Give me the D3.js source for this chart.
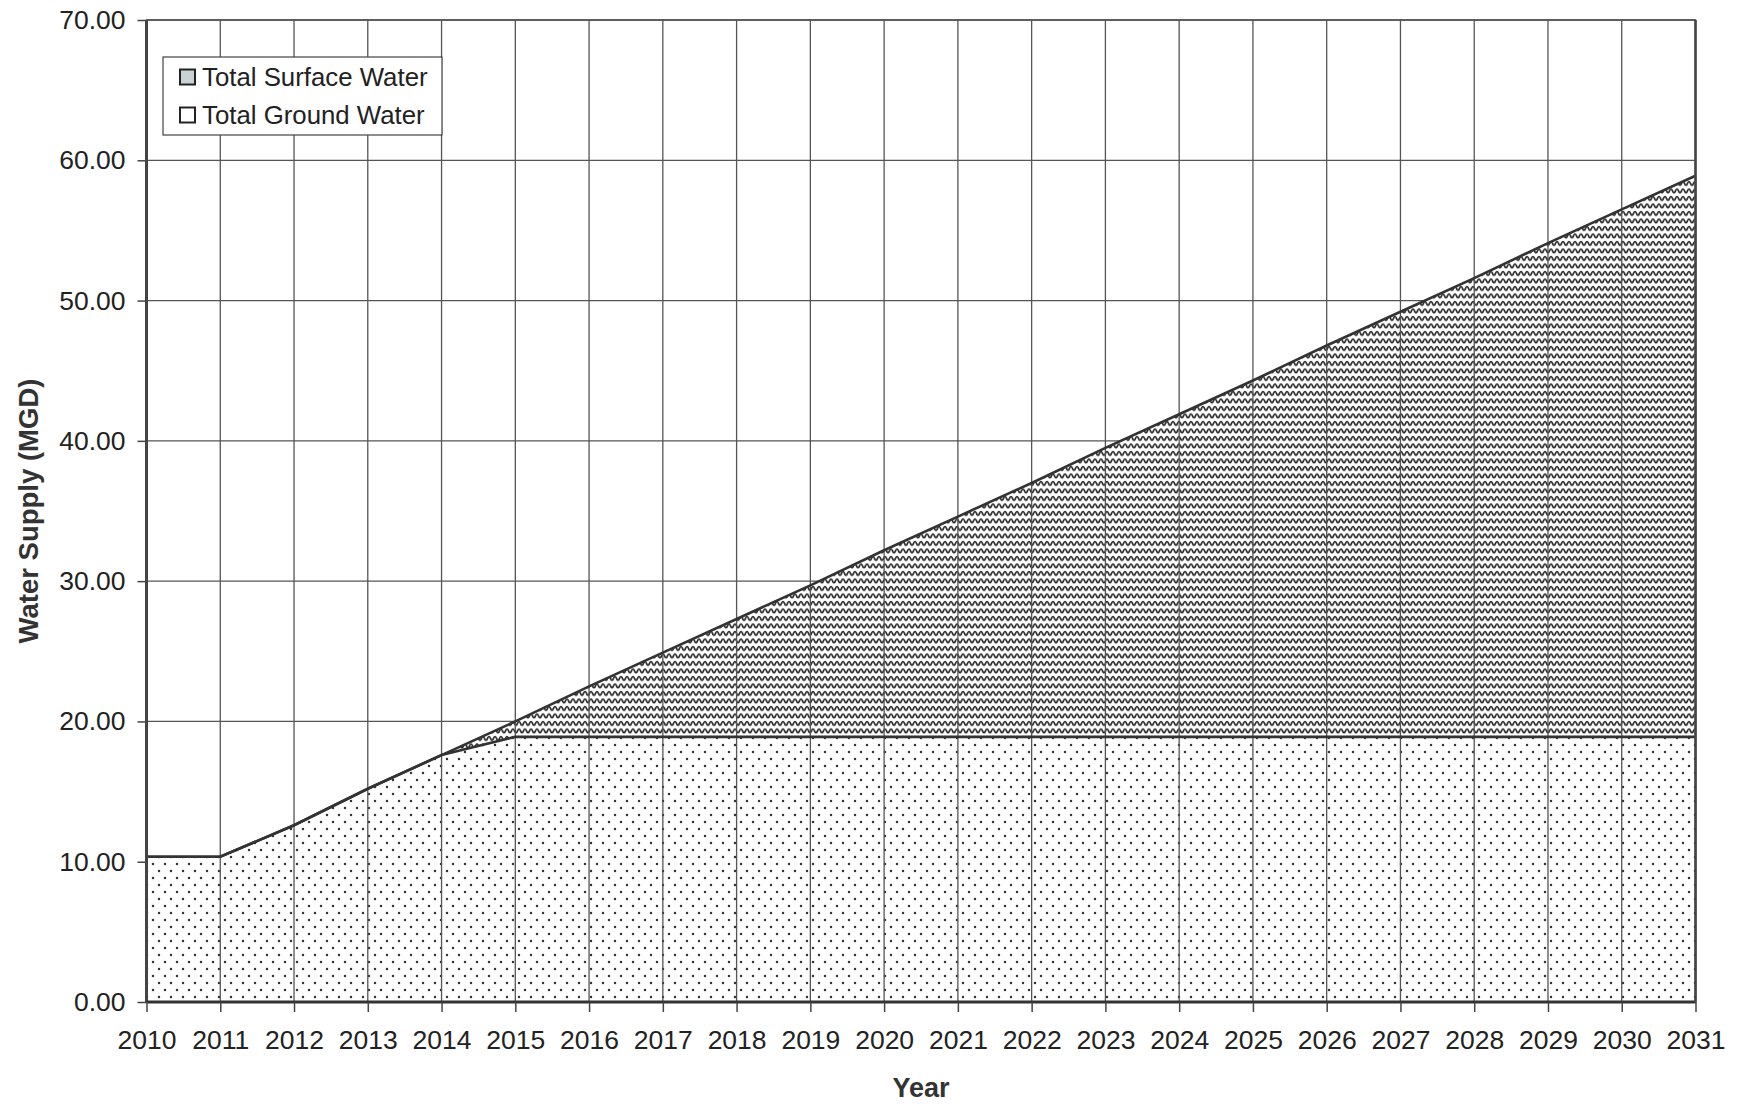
<!DOCTYPE html>
<html>
<head>
<meta charset="utf-8">
<script src="https://cdn.jsdelivr.net/npm/d3@7"></script>
<style>
  html, body { margin: 0; padding: 0; background: #fff; }
  svg { display: block; font-family: "Liberation Sans", Arial, sans-serif; }
</style>
</head>
<body>
<svg id="chart" width="1739" height="1104"></svg>
<script>
const years = [2010,2011,2012,2013,2014,2015,2016,2017,2018,2019,2020,2021,2022,2023,2024,2025,2026,2027,2028,2029,2030,2031];
const groundWater = [10.35,10.35,12.6,15.2,17.6,18.9,18.9,18.9,18.9,18.9,18.9,18.9,18.9,18.9,18.9,18.9,18.9,18.9,18.9,18.9,18.9,18.9];
const surfaceWater = [0,0,0,0,0,1.1,3.6,6.0,8.4,10.8,13.3,15.7,18.1,20.6,23.0,25.4,27.9,30.3,32.7,35.2,37.6,40.0];
const yTicks = [0,10,20,30,40,50,60,70];
const seriesNames = ["Total Surface Water","Total Ground Water"];
const xTitle = "Year";
const yTitle = "Water Supply (MGD)";

const svg = d3.select("#chart");
const L = 146.5, R = 1695.5, T = 20, B = 1002;
const x = d3.scaleLinear().domain([2010, 2031]).range([L, R]);
const y = d3.scaleLinear().domain([0, 70]).range([B, T]);

const defs = svg.append("defs");
// dotted pattern (ground water)
const dots = defs.append("pattern").attr("id","dots").attr("patternUnits","userSpaceOnUse")
  .attr("width",12).attr("height",14);
dots.append("rect").attr("width",12).attr("height",14).attr("fill","#fff");
dots.append("circle").attr("cx",3).attr("cy",3).attr("r",1.25).attr("fill","#333");
dots.append("circle").attr("cx",9).attr("cy",10).attr("r",1.25).attr("fill","#333");
// wave pattern (surface water)
const wave = defs.append("pattern").attr("id","wave").attr("patternUnits","userSpaceOnUse")
  .attr("width",12).attr("height",7.5);
wave.append("rect").attr("width",12).attr("height",7.5).attr("fill","#fff");
wave.append("path").attr("d","M0,5.2 C1.6,5.2 1.4,1.6 3,1.6 C4.6,1.6 4.4,5.2 6,5.2 C7.6,5.2 7.4,1.6 9,1.6 C10.6,1.6 10.4,5.2 12,5.2")
  .attr("fill","none").attr("stroke","#2a2a2a").attr("stroke-width",1.7);

const data = years.map((yr, i) => ({year: yr, g: groundWater[i], s: surfaceWater[i]}));

// grid
const grid = svg.append("g");
grid.selectAll("line.v").data(years).enter().append("line")
  .attr("x1", d => x(d)).attr("x2", d => x(d)).attr("y1", T).attr("y2", B)
  .attr("stroke","#555").attr("stroke-width",1.3);
grid.selectAll("line.h").data(yTicks).enter().append("line")
  .attr("x1", L).attr("x2", R).attr("y1", d => y(d)).attr("y2", d => y(d))
  .attr("stroke","#555").attr("stroke-width",1.3);

// areas
const groundArea = d3.area().x(d => x(d.year)).y0(y(0)).y1(d => y(d.g));
const surfData = data.filter(d => d.year >= 2014);
const surfArea = d3.area().x(d => x(d.year)).y0(d => y(d.g)).y1(d => y(d.g + d.s));
svg.append("path").datum(data).attr("d", groundArea).attr("fill","url(#dots)");
svg.append("path").datum(surfData).attr("d", surfArea).attr("fill","url(#wave)");

// vertical grid lines over fill (visible in reference)
svg.append("g").selectAll("line").data(data).enter().append("line")
  .attr("x1", d => x(d.year)).attr("x2", d => x(d.year)).attr("y1", d => y(d.g + d.s)).attr("y2", B)
  .attr("stroke","#555").attr("stroke-width",1.3);

// boundary lines
const lineG = d3.line().x(d => x(d.year)).y(d => y(d.g));
const lineT = d3.line().x(d => x(d.year)).y(d => y(d.g + d.s));
svg.append("path").datum(data).attr("d", lineG).attr("fill","none").attr("stroke","#333").attr("stroke-width",2.6);
svg.append("path").datum(data).attr("d", lineT).attr("fill","none").attr("stroke","#333").attr("stroke-width",2.6);

// plot border
svg.append("rect").attr("x", L).attr("y", T).attr("width", R - L).attr("height", B - T)
  .attr("fill","none").attr("stroke","#555").attr("stroke-width",1.5);
svg.append("line").attr("x1",L).attr("x2",L).attr("y1",T).attr("y2",B).attr("stroke","#444").attr("stroke-width",3);
svg.append("line").attr("x1",L).attr("x2",R).attr("y1",B).attr("y2",B).attr("stroke","#333").attr("stroke-width",3);
svg.append("line").attr("x1",R).attr("x2",R).attr("y1",T).attr("y2",B).attr("stroke","#444").attr("stroke-width",2.5);

// axes
const yAxis = d3.axisLeft(y).tickValues(yTicks).tickFormat(d3.format(".2f")).tickSize(9).tickPadding(12);
const gy = svg.append("g").attr("transform", `translate(${L},0)`).call(yAxis);
const xAxis = d3.axisBottom(x).tickValues(years).tickFormat(d3.format("d")).tickSize(10).tickPadding(18);
const gx = svg.append("g").attr("transform", `translate(0,${B})`).call(xAxis);
[gy, gx].forEach(g => {
  g.select(".domain").remove();
  g.selectAll(".tick line").attr("stroke","#444").attr("stroke-width",1.5);
  g.selectAll(".tick text").attr("fill","#222").style("font-size","26.5px").style("font-family",'"Liberation Sans", Arial, sans-serif');
});

// axis titles
svg.append("text").attr("x", (L + R) / 2).attr("y", 1097).attr("text-anchor","middle")
  .style("font-size","27px").style("font-weight","bold").attr("fill","#333").text(xTitle);
svg.append("text").attr("transform", `translate(38,${(T + B) / 2}) rotate(-90)`).attr("text-anchor","middle")
  .style("font-size","27.5px").style("font-weight","bold").attr("fill","#333").text(yTitle);

// legend
const lg = svg.append("g");
lg.append("rect").attr("x",163).attr("y",57).attr("width",279).attr("height",78)
  .attr("fill","#fff").attr("stroke","#444").attr("stroke-width",1.2);
seriesNames.forEach((name, i) => {
  const cy = 77 + i * 38;
  lg.append("rect").attr("x",180).attr("y",cy - 7.5).attr("width",15).attr("height",15)
    .attr("fill", i === 0 ? "#c9d3d6" : "#fff").attr("stroke","#222").attr("stroke-width",2);
  lg.append("text").attr("x",202).attr("y",cy + 9).style("font-size","25.8px").attr("fill","#222").text(name);
});
</script>
</body>
</html>
